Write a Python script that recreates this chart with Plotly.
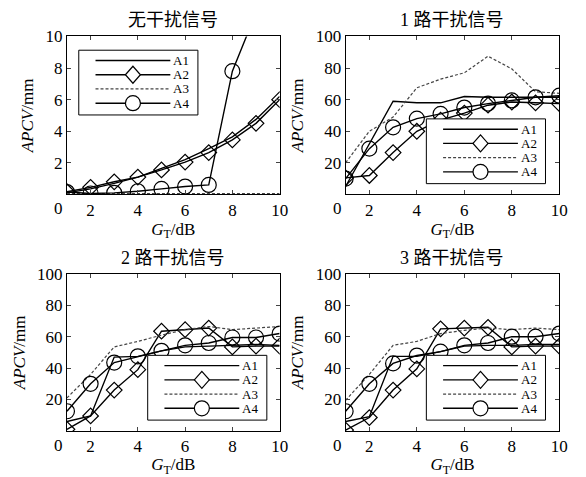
import plotly.graph_objects as go

# ---------------- data ----------------
gt = [1, 2, 3, 4, 5, 6, 7, 8, 9, 10]
series_names = ["A1", "A2", "A3", "A4"]
panel_titles = ["无干扰信号", "1 路干扰信号", "2 路干扰信号", "3 路干扰信号"]

# panel 1: no interference
p1_a1 = [0.1, 0.35, 0.7, 1.1, 1.65, 2.2, 2.9, 3.65, 4.75, 6.2]
p1_a2 = [0.17, 0.45, 0.8, 1.1, 1.55, 2.05, 2.65, 3.45, 4.5, 6.0]
p1_a3 = [0.05, 0.05, 0.05, 0.05, 0.05, 0.05, 0.05, 0.05, 0.05, 0.05]
p1_a4 = [0.15, 0.06, 0.1, 0.2, 0.35, 0.5, 0.6, 7.8, 11.5, 14.0]

# panel 2: 1 interference signal
p2_a1 = [5, 32, 59, 58, 58, 62, 61.5, 61.5, 61.5, 61.5]
p2_a2 = [10.5, 12, 26.5, 40, 47, 51.5, 56.5, 58.5, 58, 57.5]
p2_a3 = [20, 40, 49, 67.5, 73, 77, 87.5, 79.5, 65, 64]
p2_a4 = [10, 29, 42.5, 48, 51, 55, 57.5, 59.5, 61.5, 62.5]

# panel 3: 2 interference signals
p3_a1 = [6, 9.5, 47, 47.5, 51, 53.5, 54, 54.5, 55, 54.5]
p3_a2 = [1, 9.5, 26, 39, 63.5, 64.5, 65.5, 53.5, 54, 54]
p3_a3 = [21, 36, 53.5, 57, 61, 64.5, 66.5, 64.5, 65.5, 66.5]
p3_a4 = [12.5, 30, 43.5, 47.5, 51, 54.5, 56, 59.5, 59.5, 62]

# panel 4: 3 interference signals
p4_a1 = [6, 9, 47.5, 47.5, 50.5, 54, 54.5, 54.5, 55, 55]
p4_a2 = [0.5, 8.5, 26, 39.5, 65, 65.5, 66, 53.5, 54, 54]
p4_a3 = [19.5, 36, 54.5, 57, 62, 64, 65.5, 64.5, 65.5, 64.5]
p4_a4 = [12.5, 30, 43, 48, 50.5, 54.5, 56, 60, 60, 62]

panels = [
    [p1_a1, p1_a2, p1_a3, p1_a4],
    [p2_a1, p2_a2, p2_a3, p2_a4],
    [p3_a1, p3_a2, p3_a3, p3_a4],
    [p4_a1, p4_a2, p4_a3, p4_a4],
]
y_ranges = [[0, 10], [0, 100], [0, 100], [0, 100]]
y_ticks = [[2, 4, 6, 8, 10], [20, 40, 60, 80, 100], [20, 40, 60, 80, 100], [20, 40, 60, 80, 100]]
x_ticks = [2, 4, 6, 8, 10]

# ---------------- layout geometry (pixels) ----------------
W, H = 586, 477
box_px = [(68, 284, 28, 189), (351, 568, 28, 189), (68, 284, 270, 430), (351, 568, 270, 430)]
legend_px = [(80, 42), (433, 112), (150, 353), (433, 353)]   # top-left of each legend box
LEG_W, LEG_H = 121, 66
LEG_ROWS = [10.5, 25, 39.5, 54]
LEG_LINE = (17, 93)
LEG_MARK = 55
LEG_TEXT = 95


def px(x):
    return x / W


def py(y):
    return 1 - y / H


SERIF = '"Liberation Serif", "Times New Roman", Times, serif'
CJK = '"Liberation Serif", "Times New Roman", "Noto Sans CJK SC", serif'

line_w = 1.4
styles = [
    dict(mode="lines", line=dict(color="black", width=line_w)),
    dict(mode="lines+markers", line=dict(color="black", width=line_w),
         marker=dict(symbol="diamond-open", size=12, color="black", line=dict(width=1.2))),
    dict(mode="lines", line=dict(color="#444", width=1.2, dash="3px,2px")),
    dict(mode="lines+markers", line=dict(color="black", width=line_w),
         marker=dict(symbol="circle-open", size=15, color="black", line=dict(width=1.2))),
]

fig = go.Figure()
annotations = []
shapes = []
layout = dict(width=W, height=H, margin=dict(l=0, r=0, t=0, b=0),
              paper_bgcolor="white", plot_bgcolor="white", showlegend=False,
              font=dict(family=SERIF, size=16, color="black"))

for i, data in enumerate(panels):
    sfx = "" if i == 0 else str(i + 1)
    x0, x1, y0, y1 = box_px[i]
    for j, ys in enumerate(data):
        fig.add_trace(go.Scatter(x=gt, y=ys, name=series_names[j],
                                 xaxis="x" + sfx, yaxis="y" + sfx,
                                 showlegend=False, **styles[j]))
    layout["xaxis" + sfx] = dict(domain=[px(x0), px(x1)], anchor="y" + sfx, range=[1, 10],
                                 tickvals=x_ticks, ticks="inside", ticklen=4,
                                 showline=True, linecolor="black", linewidth=1,
                                 mirror="ticks", showgrid=False, zeroline=False,
                                 tickfont=dict(size=17, family=SERIF),
                                 title=dict(text="<i>G</i><sub>T</sub>/dB", standoff=0,
                                            font=dict(size=17, family=SERIF)))
    layout["yaxis" + sfx] = dict(domain=[py(y1), py(y0)], anchor="x" + sfx, range=y_ranges[i],
                                 tickvals=y_ticks[i], ticks="inside", ticklen=4,
                                 showline=True, linecolor="black", linewidth=1,
                                 mirror="ticks", showgrid=False, zeroline=False,
                                 tickfont=dict(size=17, family=SERIF),
                                 title=dict(text="<i>APCV</i>/mm", standoff=7,
                                            font=dict(size=17, family=SERIF)))
    # panel title
    annotations.append(dict(text=panel_titles[i], xref="x" + sfx + " domain",
                            yref="y" + sfx + " domain", x=0.5, y=1,
                            yanchor="bottom", yshift=4, showarrow=False,
                            font=dict(family=CJK, size=18)))
    # origin "0" label at bottom-left corner
    annotations.append(dict(text="0", xref="x" + sfx + " domain",
                            yref="y" + sfx + " domain", x=0, y=0,
                            xanchor="center", yanchor="top", xshift=-8, yshift=-3,
                            showarrow=False, font=dict(family=SERIF, size=17)))

    # ---- legend box drawn in the MATLAB style ----
    lx, ly = legend_px[i]
    shapes.append(dict(type="rect", xref="paper", yref="paper", layer="above",
                       x0=px(lx), x1=px(lx + LEG_W), y0=py(ly + LEG_H), y1=py(ly),
                       line=dict(color="black", width=1), fillcolor="white"))
    for j, name in enumerate(series_names):
        ry = ly + LEG_ROWS[j]
        st = styles[j]
        shapes.append(dict(type="line", xref="paper", yref="paper", layer="above",
                           x0=px(lx + LEG_LINE[0]), x1=px(lx + LEG_LINE[1]),
                           y0=py(ry), y1=py(ry),
                           line=dict(color=st["line"]["color"], width=st["line"]["width"],
                                     dash=st["line"].get("dash", "solid"))))
        if j == 1:
            shapes.append(dict(type="path", xref="paper", yref="paper", layer="above",
                               xsizemode="pixel", ysizemode="pixel",
                               xanchor=px(lx + LEG_MARK), yanchor=py(ry),
                               path="M -7.5 0 L 0 8.5 L 7.5 0 L 0 -8.5 Z",
                               line=dict(color="black", width=1.2), fillcolor="white"))
        if j == 3:
            shapes.append(dict(type="circle", xref="paper", yref="paper", layer="above",
                               xsizemode="pixel", ysizemode="pixel",
                               xanchor=px(lx + LEG_MARK), yanchor=py(ry),
                               x0=-7.5, x1=7.5, y0=-7.5, y1=7.5,
                               line=dict(color="black", width=1.2), fillcolor="white"))
        annotations.append(dict(text=name, xref="paper", yref="paper",
                                x=px(lx + LEG_TEXT), y=py(ry), xanchor="left", yanchor="middle",
                                borderpad=0, showarrow=False,
                                font=dict(family=SERIF, size=13)))

layout["annotations"] = annotations
layout["shapes"] = shapes
fig.update_layout(**layout)
fig.write_html("out.html", config={"displayModeBar": False},
               post_script="document.body.style.margin='0px';")
